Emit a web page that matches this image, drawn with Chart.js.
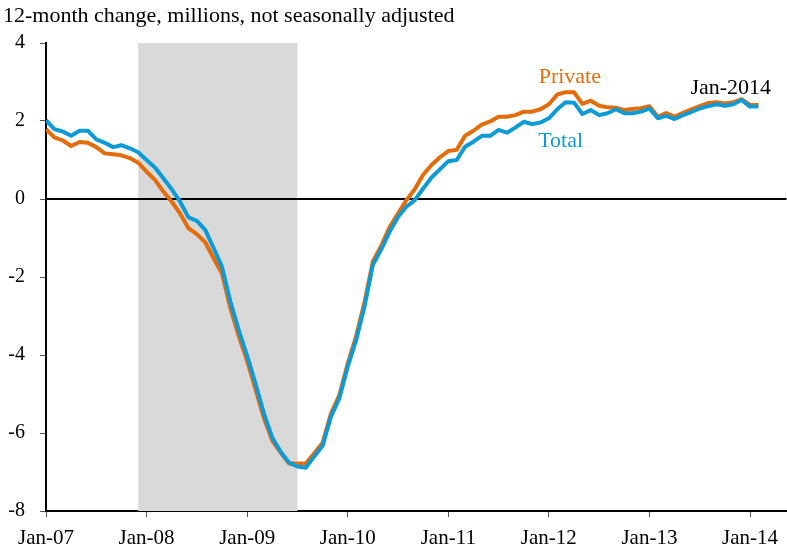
<!DOCTYPE html>
<html>
<head>
<meta charset="utf-8">
<script src="https://cdn.jsdelivr.net/npm/chart.js@4/dist/chart.umd.min.js"></script>
<style>
  body { margin: 0; background: #fff; }
  canvas { display: block; }
</style>
</head>
<body>
<canvas id="graficoEmpleo" width="787" height="551"></canvas>
<script>
// meses desde Jan-2007 (0) hasta Feb-2014 (85)
const totalValues = [
  2.02, 1.79, 1.73, 1.62, 1.75, 1.75, 1.53, 1.44, 1.33, 1.38, 1.30, 1.20,
  1.00, 0.81, 0.53, 0.25, -0.07, -0.47, -0.56, -0.79, -1.26, -1.74, -2.63, -3.36,
  -4.02, -4.73, -5.50, -6.12, -6.48, -6.76, -6.86, -6.89, -6.60, -6.33, -5.58, -5.11,
  -4.30, -3.62, -2.76, -1.69, -1.29, -0.84, -0.46, -0.20, -0.03, 0.27, 0.55, 0.76,
  0.97, 1.00, 1.34, 1.47, 1.62, 1.62, 1.77, 1.70, 1.83, 1.98, 1.92, 1.96,
  2.07, 2.30, 2.48, 2.47, 2.18, 2.28, 2.15, 2.20, 2.30, 2.20, 2.20, 2.24,
  2.32, 2.07, 2.13, 2.05, 2.15, 2.23, 2.32, 2.38, 2.43, 2.39, 2.43, 2.54,
  2.37, 2.37
];
const privateValues = [
  1.79, 1.58, 1.50, 1.36, 1.46, 1.44, 1.33, 1.17, 1.15, 1.12, 1.05, 0.93,
  0.70, 0.49, 0.19, -0.07, -0.37, -0.75, -0.90, -1.11, -1.52, -1.91, -2.80, -3.52,
  -4.15, -4.88, -5.62, -6.20, -6.50, -6.78, -6.78, -6.78, -6.52, -6.25, -5.50, -5.03,
  -4.22, -3.52, -2.65, -1.60, -1.20, -0.72, -0.37, -0.03, 0.25, 0.62, 0.87, 1.07,
  1.23, 1.26, 1.62, 1.75, 1.91, 1.99, 2.11, 2.11, 2.15, 2.24, 2.24, 2.30,
  2.43, 2.68, 2.74, 2.74, 2.44, 2.52, 2.39, 2.35, 2.34, 2.28, 2.31, 2.33,
  2.38, 2.11, 2.20, 2.11, 2.21, 2.30, 2.38, 2.46, 2.48, 2.45, 2.48, 2.56,
  2.41, 2.41
];
const xTickMonths = [0, 12, 24, 36, 48, 60, 72, 84];
const xTickLabels = ["Jan-07", "Jan-08", "Jan-09", "Jan-10", "Jan-11", "Jan-12", "Jan-13", "Jan-14"];
const yTickValues = [-8, -6, -4, -2, 0, 2, 4];
// recesion: Dec-2007 a Jun-2009
const recessionStart = 11;
const recessionEnd = 30;

const fontFamily = "'Liberation Serif', 'Times New Roman', serif";
const naranja = "#E46C0A";
const azul = "#0C9BD7";

const notes = [
  { text: "Private", month: 62.5, value: 3.13, color: naranja },
  { text: "Total", month: 61.4, value: 1.49, color: azul },
  { text: "Jan-2014", month: 81.7, value: 2.85, color: "#000" },
];

const toPoints = (values) => values.map((v, i) => ({ x: i, y: v }));

// sombreado de recesion + linea de cero
const fondoPlugin = {
  id: "fondo",
  beforeDatasetsDraw(chart) {
    const { ctx, chartArea, scales } = chart;
    const x0 = scales.x.getPixelForValue(recessionStart);
    const x1 = scales.x.getPixelForValue(recessionEnd);
    ctx.save();
    ctx.fillStyle = "#D9D9D9";
    ctx.fillRect(x0, chartArea.top, x1 - x0, chartArea.bottom - chartArea.top);
    const y0 = scales.y.getPixelForValue(0);
    ctx.strokeStyle = "#000";
    ctx.lineWidth = 2;
    ctx.beginPath();
    ctx.moveTo(chartArea.left, y0);
    ctx.lineTo(chartArea.right, y0);
    ctx.stroke();
    ctx.restore();
  },
};

// titulo y etiquetas de las series
const textosPlugin = {
  id: "textos",
  afterDraw(chart) {
    const { ctx, scales } = chart;
    ctx.save();
    ctx.fillStyle = "#000";
    ctx.font = "22px " + fontFamily;
    ctx.textAlign = "left";
    ctx.textBaseline = "alphabetic";
    ctx.fillText("12-month change, millions, not seasonally adjusted", 3, 22);

    ctx.font = "22px " + fontFamily;
    ctx.textAlign = "center";
    ctx.textBaseline = "middle";
    notes.forEach((n) => {
      ctx.fillStyle = n.color;
      ctx.fillText(n.text, scales.x.getPixelForValue(n.month), scales.y.getPixelForValue(n.value));
    });
    ctx.restore();
  },
};

const ctx = document.getElementById("graficoEmpleo").getContext("2d");
new Chart(ctx, {
  type: "line",
  data: {
    datasets: [
      {
        label: "Total",
        data: toPoints(totalValues),
        borderColor: azul,
        borderWidth: 4,
        pointRadius: 0,
        tension: 0,
        borderJoinStyle: "round",
        order: 0,
      },
      {
        label: "Private",
        data: toPoints(privateValues),
        borderColor: naranja,
        borderWidth: 4,
        pointRadius: 0,
        tension: 0,
        borderJoinStyle: "round",
        order: 1,
      },
    ],
  },
  options: {
    responsive: false,
    animation: false,
    layout: { padding: { top: 43, right: 0, bottom: 0, left: 0 } },
    plugins: {
      legend: { display: false },
      title: { display: false },
      tooltip: { enabled: false },
    },
    scales: {
      x: {
        type: "linear",
        min: 0,
        max: 88.36,
        afterFit: (scale) => { scale.height = 40; },
        afterBuildTicks: (scale) => {
          scale.ticks = xTickMonths.map((m) => ({ value: m }));
        },
        border: { display: true, color: "#000", width: 2 },
        grid: { drawOnChartArea: false, drawTicks: true, tickLength: 6, color: "#555", lineWidth: 1 },
        ticks: {
          autoSkip: false,
          maxRotation: 0,
          padding: 9,
          color: "#000",
          font: { family: fontFamily, size: 21 },
          callback: (value) => xTickLabels[xTickMonths.indexOf(value)],
        },
      },
      y: {
        min: -8,
        max: 4,
        afterFit: (scale) => { scale.width = 46; },
        afterBuildTicks: (scale) => {
          scale.ticks = yTickValues.map((v) => ({ value: v }));
        },
        border: { display: true, color: "#000", width: 2 },
        grid: { drawOnChartArea: false, drawTicks: true, tickLength: 6, color: "#555", lineWidth: 1 },
        ticks: {
          padding: 15,
          color: "#000",
          font: { family: fontFamily, size: 20 },
        },
      },
    },
  },
  plugins: [fondoPlugin, textosPlugin],
});
</script>
</body>
</html>
